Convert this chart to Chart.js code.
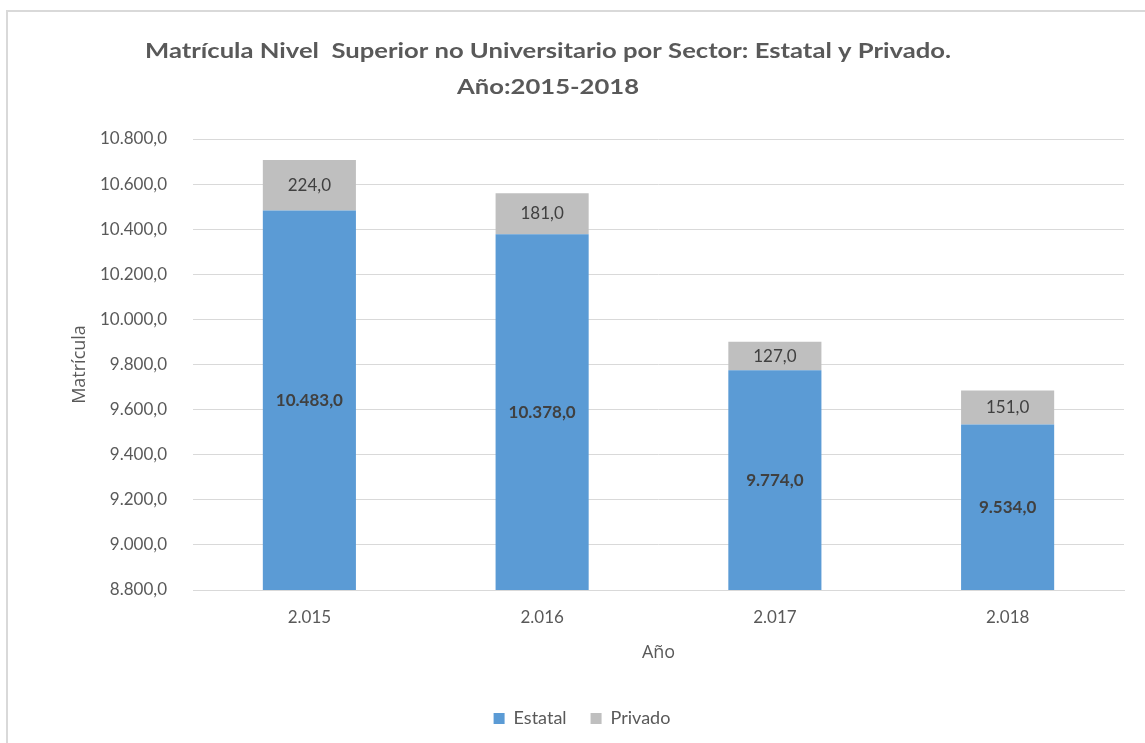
<!DOCTYPE html>
<html>
<head>
<meta charset="utf-8">
<script src="https://cdn.jsdelivr.net/npm/chart.js@4.4.1/dist/chart.umd.min.js"></script>
<style>
  html, body { margin: 0; padding: 0; background: #ffffff; }
  #wrap { position: relative; width: 1145px; height: 743px; }
</style>
</head>
<body>
<div id="wrap"><canvas id="c" width="1145" height="743"></canvas></div>
<script>
const categories = ['2.015', '2.016', '2.017', '2.018'];
const estatal = [10483, 10378, 9774, 9534];
const privado = [224, 181, 127, 151];
const titleLines = ['Matrícula Nivel  Superior no Universitario por Sector: Estatal y Privado.', 'Año:2015-2018'];
const yMin = 8800, yMax = 10800, yStep = 200;

const FONT = 'Lato, "Open Sans", sans-serif';
const FONT2 = '"Open Sans", Lato, sans-serif';
const TEXT = '#595959';

function fmt(v) {
  const parts = Math.abs(v).toFixed(1).split('.');
  const intPart = parts[0].replace(/\B(?=(\d{3})+(?!\d))/g, '.');
  return (v < 0 ? '-' : '') + intPart + ',' + parts[1];
}

const frameAndTitle = {
  id: 'frameAndTitle',
  beforeDraw(chart) {
    const ctx = chart.ctx;
    ctx.save();
    ctx.fillStyle = '#ffffff';
    ctx.fillRect(0, 0, chart.width, chart.height);
    ctx.strokeStyle = '#d9d9d9';
    ctx.lineWidth = 2;
    ctx.strokeRect(7, 11, chart.width + 20, chart.height + 20);
    ctx.restore();
  },
  afterDraw(chart) {
    const ctx = chart.ctx;
    ctx.save();
    ctx.fillStyle = TEXT;
    ctx.font = 'bold 21px ' + FONT;
    ctx.textAlign = 'center';
    ctx.textBaseline = 'middle';
    const w = ctx.measureText(titleLines[0]).width;
    const sx = 806 / w;
    ctx.translate(548, 0);
    ctx.scale(sx, 1);
    ctx.fillText(titleLines[0], 0, 51);
    ctx.fillText(titleLines[1], 0, 87);
    ctx.restore();
  }
};

const barLabels = {
  id: 'barLabels',
  afterDatasetsDraw(chart) {
    const ctx = chart.ctx;
    const area = chart.chartArea;
    ctx.save();
    ctx.textAlign = 'center';
    ctx.textBaseline = 'middle';
    ctx.fillStyle = '#404040';
    chart.data.datasets.forEach((ds, di) => {
      const meta = chart.getDatasetMeta(di);
      if (meta.hidden) return;
      ctx.font = (di === 0 ? 'bold ' : '') + '17px ' + FONT;
      meta.data.forEach((bar, i) => {
        const p = bar.getProps(['x', 'y', 'base'], true);
        const top = Math.max(Math.min(p.y, p.base), area.top);
        const bottom = Math.min(Math.max(p.y, p.base), area.bottom);
        ctx.fillText(fmt(ds.data[i]), p.x, (top + bottom) / 2);
      });
    });
    ctx.restore();
  }
};

new Chart(document.getElementById('c'), {
  type: 'bar',
  data: {
    labels: categories,
    datasets: [
      { label: 'Estatal', data: estatal, backgroundColor: '#5b9bd5', borderWidth: 0 },
      { label: 'Privado', data: privado, backgroundColor: '#bfbfbf', borderWidth: 0 }
    ]
  },
  options: {
    responsive: false,
    animation: false,
    devicePixelRatio: 1,
    layout: { padding: { top: 139, left: 40, right: 21, bottom: 5.5 } },
    datasets: { bar: { categoryPercentage: 0.8, barPercentage: 0.5 } },
    plugins: {
      title: { display: false },
      tooltip: { enabled: false },
      legend: {
        position: 'bottom',
        labels: {
          boxWidth: 11, boxHeight: 11, padding: 24,
          color: TEXT, font: { family: FONT, size: 18 }
        }
      }
    },
    scales: {
      x: {
        stacked: true,
        grid: { display: false, drawTicks: false },
        border: { display: true, color: '#d9d9d9', width: 1 },
        ticks: { color: TEXT, font: { family: FONT, size: 17 }, padding: 17 },
        title: { display: true, text: 'Año', color: TEXT, font: { family: FONT2, size: 18 }, padding: { top: 0, bottom: 21.5 } },
        afterFit(s) { s.height = 95.5; }
      },
      y: {
        stacked: true,
        min: yMin, max: yMax,
        grid: { color: '#d9d9d9', lineWidth: 1, drawTicks: false },
        border: { display: false },
        ticks: {
          stepSize: yStep, color: TEXT, font: { family: FONT, size: 17 }, padding: 26,
          callback: (v) => fmt(v)
        },
        title: { display: true, text: 'Matrícula', color: TEXT, font: { family: FONT2, size: 18 }, padding: { top: 29, bottom: 0 } },
        afterFit(s) { s.width = 153; }
      }
    }
  },
  plugins: [frameAndTitle, barLabels]
});
</script>
</body>
</html>
